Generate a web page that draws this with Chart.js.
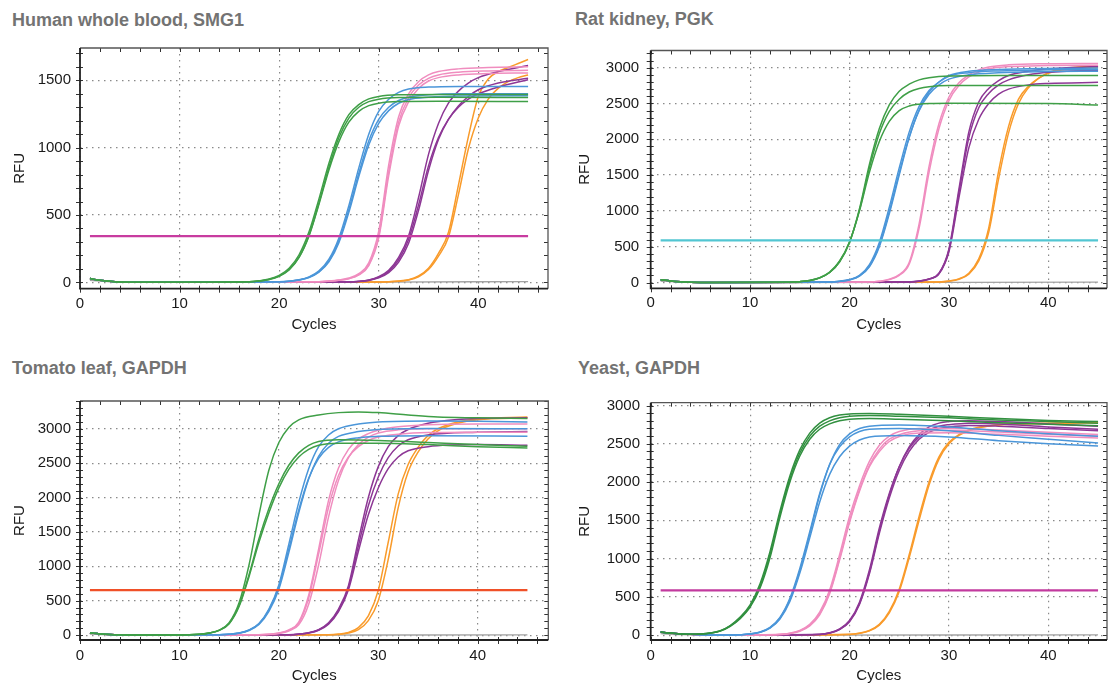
<!DOCTYPE html>
<html>
<head>
<meta charset="utf-8">
<script src="https://cdn.jsdelivr.net/npm/chart.js@4.4.1/dist/chart.umd.min.js"></script>
<style>
  html, body { margin: 0; padding: 0; background: #fff; }
  body { width: 1112px; height: 688px; position: relative; overflow: hidden; font-family: "Liberation Sans", Arial, sans-serif; }
  .ttl { position: absolute; font-size: 18px; line-height: 18px; font-weight: bold; color: #737373; white-space: nowrap; }
  canvas { position: absolute; }
</style>
</head>
<body>
<div class="ttl" style="left:12px; top:11px">Human whole blood, SMG1</div>
<div class="ttl" style="left:575px; top:10px">Rat kidney, PGK</div>
<div class="ttl" style="left:12px; top:359px">Tomato leaf, GAPDH</div>
<div class="ttl" style="left:578px; top:359px">Yeast, GAPDH</div>
<canvas id="c1" width="556" height="307" style="left:0px; top:30px"></canvas>
<canvas id="c2" width="547" height="307" style="left:565px; top:30px"></canvas>
<canvas id="c3" width="556" height="305" style="left:0px; top:383px"></canvas>
<canvas id="c4" width="547" height="305" style="left:565px; top:383px"></canvas>
<script>
// ticks
const cycleTicks = [0, 10, 20, 30, 40];
const bloodRfuTicks = [0, 500, 1000, 1500];
const rfuTicks = [0, 500, 1000, 1500, 2000, 2500, 3000];

// threshold levels
const bloodThreshold = 344;
const kidneyThreshold = 587;
const tomatoThreshold = 653;
const yeastThreshold = 584;

// ---- Human whole blood, SMG1 ----
const bloodHead = [[1,28],[2,16],[3,8],[4,3],[6,0]];
const bloodGreen = [
  [[17,5],[18,12],[19,25],[20,52],[21,105],[22,205],[23,375],[24,620],[25,885],[26,1100],[27,1245],[28,1320],[29,1362],[30,1380],[32,1392],[36,1395],[45,1395]],
  [[17,4],[18,10],[19,22],[20,46],[21,95],[22,188],[23,350],[24,590],[25,855],[26,1075],[27,1220],[28,1300],[29,1342],[30,1360],[32,1372],[36,1375],[45,1372]],
  [[17,4],[18,10],[19,21],[20,45],[21,92],[22,185],[23,345],[24,580],[25,835],[26,1045],[27,1190],[28,1270],[29,1312],[30,1330],[32,1342],[36,1345],[45,1342]]
];
const bloodBlue = [
  [[20,5],[21,9],[22,19],[23,41],[24,86],[25,172],[26,330],[27,570],[28,850],[29,1100],[30,1270],[31,1360],[32,1410],[33,1435],[35,1450],[38,1455],[45,1455]],
  [[20,4],[21,8],[22,17],[23,37],[24,80],[25,160],[26,310],[27,540],[28,810],[29,1050],[30,1210],[31,1300],[32,1350],[33,1375],[35,1392],[38,1400],[45,1400]],
  [[20,4],[21,8],[22,17],[23,36],[24,76],[25,152],[26,295],[27,520],[28,785],[29,1020],[30,1180],[31,1275],[32,1330],[33,1358],[35,1375],[38,1383],[45,1385]]
];
const bloodPink = [
  [[24,5],[25,10],[26,18],[27,32],[28,65],[29,145],[30,380],[31,870],[32,1230],[33,1400],[34,1490],[35,1540],[36,1565],[38,1585],[41,1595],[45,1600]],
  [[24,4],[25,9],[26,16],[27,28],[28,58],[29,130],[30,345],[31,820],[32,1190],[33,1370],[34,1465],[35,1515],[36,1540],[38,1560],[41,1570],[45,1575]],
  [[24,4],[25,8],[26,15],[27,27],[28,55],[29,125],[30,330],[31,790],[32,1160],[33,1340],[34,1440],[35,1495],[36,1520],[38,1540],[41,1550],[45,1555]]
];
const bloodPurple = [
  [[27,4],[28,8],[29,18],[30,42],[31,90],[32,185],[33,345],[34,630],[35,950],[36,1180],[37,1330],[38,1420],[39,1480],[40,1520],[42,1565],[45,1610]],
  [[27,3],[28,7],[29,16],[30,38],[31,82],[32,168],[33,318],[34,575],[35,865],[36,1075],[37,1210],[38,1300],[39,1360],[40,1400],[42,1450],[45,1505]],
  [[27,3],[28,6],[29,14],[30,33],[31,72],[32,150],[33,290],[34,535],[35,830],[36,1060],[37,1210],[38,1310],[39,1380],[40,1430],[42,1480],[45,1515]]
];
const bloodOrange = [
  [[30,3],[31,5],[32,10],[33,20],[34,48],[35,105],[36,215],[37,370],[38,720],[39,1080],[40,1380],[41,1510],[42,1565],[43,1595],[44,1625],[45,1655]],
  [[30,2],[31,4],[32,8],[33,17],[34,42],[35,95],[36,195],[37,335],[38,650],[39,990],[40,1220],[41,1360],[42,1440],[43,1490],[44,1520],[45,1540]]
];
const bloodGray = [[1,15],[3,4],[8,0],[30,2],[45,6]];

// ---- Rat kidney, PGK ----
const kidneyHead = [[1,40],[2,22],[3,10],[4,4],[6,0]];
const kidneyGreen = [
  [[14,5],[15,12],[16,28],[17,65],[18,140],[19,290],[20,560],[21,1030],[22,1650],[23,2150],[24,2480],[25,2670],[26,2770],[27,2830],[28,2860],[30,2885],[35,2892],[45,2890]],
  [[14,5],[15,12],[16,28],[17,65],[18,140],[19,290],[20,560],[21,1010],[22,1600],[23,2080],[24,2390],[25,2560],[26,2660],[27,2710],[28,2735],[30,2750],[45,2750]],
  [[14,5],[15,12],[16,29],[17,67],[18,145],[19,300],[20,570],[21,1000],[22,1540],[23,1970],[24,2250],[25,2400],[26,2465],[27,2490],[28,2500],[30,2505],[40,2500],[45,2480]]
];
const kidneyBlue = [
  [[18,8],[19,18],[20,42],[21,100],[22,250],[23,560],[24,1050],[25,1600],[26,2100],[27,2460],[28,2680],[29,2800],[30,2880],[32,2930],[35,2955],[40,2970],[45,2975]],
  [[18,7],[19,16],[20,38],[21,92],[22,230],[23,520],[24,990],[25,1530],[26,2030],[27,2400],[28,2630],[29,2760],[30,2840],[32,2900],[35,2930],[40,2945],[45,2950]],
  [[18,7],[19,15],[20,36],[21,88],[22,220],[23,500],[24,960],[25,1500],[26,2020],[27,2410],[28,2660],[29,2800],[30,2890],[32,2950],[35,2975],[40,2990],[45,2995]]
];
const kidneyPink = [
  [[22,8],[23,18],[24,45],[25,110],[26,280],[27,820],[28,1620],[29,2220],[30,2590],[31,2790],[32,2900],[33,2970],[34,3010],[36,3040],[40,3055],[45,3060]],
  [[22,7],[23,16],[24,40],[25,100],[26,255],[27,760],[28,1540],[29,2150],[30,2540],[31,2750],[32,2870],[33,2940],[34,2985],[36,3015],[40,3030],[45,3035]]
];
const kidneyPurple = [
  [[26,8],[27,20],[28,50],[29,130],[30,470],[31,1300],[32,2100],[33,2520],[34,2710],[35,2820],[36,2890],[38,2950],[40,2985],[45,3015]],
  [[26,8],[27,19],[28,48],[29,125],[30,450],[31,1250],[32,2020],[33,2440],[34,2640],[35,2760],[36,2830],[38,2900],[40,2935],[45,2965]],
  [[26,7],[27,18],[28,46],[29,120],[30,430],[31,1180],[32,1880],[33,2280],[34,2500],[35,2630],[36,2700],[38,2760],[40,2780],[45,2795]]
];
const kidneyOrange = [
  [[29,8],[30,20],[31,50],[32,130],[33,330],[34,760],[35,1560],[36,2180],[37,2560],[38,2740],[39,2850],[40,2920],[41,2960],[43,2990],[45,3000]],
  [[29,7],[30,18],[31,45],[32,115],[33,300],[34,700],[35,1450],[36,2090],[37,2500],[38,2720],[39,2850],[40,2930],[41,2975],[43,3010],[45,3025]]
];
const kidneyGray = [[1,20],[3,5],[8,0],[45,5]];

// ---- Tomato leaf, GAPDH ----
const tomatoHead = [[1,30],[2,18],[3,9],[4,4],[6,0]];
const tomatoGreen = [
  [[11,5],[12,12],[13,30],[14,72],[15,180],[16,470],[17,1020],[18,1750],[19,2400],[20,2800],[21,3020],[22,3130],[24,3200],[26,3235],[28,3245],[30,3235],[33,3200],[36,3170],[40,3160],[45,3150]],
  [[11,5],[12,12],[13,30],[14,70],[15,170],[16,430],[17,880],[18,1400],[19,1840],[20,2200],[21,2470],[22,2650],[23,2760],[24,2815],[26,2840],[30,2830],[35,2800],[40,2770],[45,2745]],
  [[11,5],[12,12],[13,30],[14,68],[15,165],[16,415],[17,850],[18,1350],[19,1780],[20,2140],[21,2410],[22,2590],[23,2700],[24,2760],[26,2790],[30,2790],[35,2770],[40,2740],[45,2720]]
];
const tomatoBlue = [
  [[14,5],[15,12],[16,30],[17,75],[18,170],[19,380],[20,730],[21,1320],[22,1930],[23,2420],[24,2740],[25,2910],[26,3000],[28,3070],[30,3100],[35,3115],[40,3110],[45,3100]],
  [[14,5],[15,12],[16,30],[17,72],[18,165],[19,365],[20,700],[21,1250],[22,1820],[23,2280],[24,2570],[25,2730],[26,2810],[28,2870],[30,2890],[35,2900],[45,2890]],
  [[14,5],[15,12],[16,28],[17,68],[18,155],[19,345],[20,665],[21,1200],[22,1780],[23,2270],[24,2600],[25,2790],[26,2890],[28,2960],[30,2990],[35,3005],[45,3000]]
];
const tomatoPink = [
  [[18,5],[19,12],[20,30],[21,75],[22,190],[23,580],[24,1250],[25,1960],[26,2430],[27,2700],[28,2850],[29,2930],[30,2980],[32,3030],[35,3060],[40,3070],[45,3070]],
  [[18,5],[19,12],[20,28],[21,70],[22,175],[23,540],[24,1180],[25,1860],[26,2320],[27,2590],[28,2740],[29,2830],[30,2880],[32,2920],[35,2945],[40,2950],[45,2950]],
  [[18,4],[19,10],[20,24],[21,60],[22,150],[23,450],[24,1020],[25,1720],[26,2250],[27,2580],[28,2770],[29,2880],[30,2940],[32,2985],[35,3000],[45,3000]]
];
const tomatoPurple = [
  [[21,6],[22,15],[23,35],[24,80],[25,180],[26,380],[27,720],[28,1380],[29,2000],[30,2450],[31,2740],[32,2900],[33,2990],[35,3080],[38,3135],[40,3150],[45,3160]],
  [[21,6],[22,14],[23,32],[24,75],[25,170],[26,360],[27,690],[28,1300],[29,1880],[30,2300],[31,2580],[32,2750],[33,2840],[35,2910],[40,2950],[45,2960]],
  [[21,5],[22,13],[23,30],[24,70],[25,160],[26,340],[27,660],[28,1220],[29,1750],[30,2140],[31,2420],[32,2590],[33,2680],[35,2740],[40,2770],[45,2760]]
];
const tomatoOrange = [
  [[25,6],[26,15],[27,40],[28,110],[29,280],[30,650],[31,1350],[32,2050],[33,2480],[34,2730],[35,2900],[36,3000],[38,3100],[40,3140],[45,3170]],
  [[25,4],[26,10],[27,30],[28,80],[29,210],[30,500],[31,1100],[32,1850],[33,2370],[34,2660],[35,2850],[36,2970],[38,3080],[40,3130],[45,3160]]
];
const tomatoGray = [[1,15],[3,4],[8,0],[45,3]];

// ---- Yeast, GAPDH ----
const yeastHead = [[1,40],[2,26],[3,16],[4,10]];
const yeastFlat = [[6,2],[8,0]];
const yeastGreen = [
  [[5,14],[6,26],[7,55],[8,120],[9,225],[10,380],[11,640],[12,1050],[13,1580],[14,2040],[15,2380],[16,2600],[17,2730],[18,2800],[19,2840],[20,2860],[22,2870],[25,2860],[30,2840],[35,2810],[40,2790],[45,2770]],
  [[5,14],[6,27],[7,57],[8,125],[9,235],[10,395],[11,670],[12,1090],[13,1620],[14,2080],[15,2420],[16,2640],[17,2770],[18,2840],[19,2875],[20,2890],[22,2895],[25,2885],[30,2860],[35,2830],[40,2805],[45,2790]],
  [[5,13],[6,25],[7,52],[8,115],[9,215],[10,365],[11,615],[12,1010],[13,1540],[14,2000],[15,2340],[16,2560],[17,2690],[18,2760],[19,2800],[20,2820],[22,2830],[25,2820],[30,2800],[35,2775],[40,2755],[45,2735]]
];
const yeastBlue = [
  [[9,5],[10,15],[11,40],[12,100],[13,230],[14,480],[15,870],[16,1350],[17,1850],[18,2230],[19,2460],[20,2590],[21,2660],[22,2690],[25,2700],[30,2670],[35,2610],[40,2560],[45,2510]],
  [[9,5],[10,15],[11,38],[12,95],[13,220],[14,460],[15,840],[16,1320],[17,1830],[18,2230],[19,2490],[20,2630],[21,2700],[22,2730],[25,2745],[30,2720],[35,2670],[40,2630],[45,2600]],
  [[9,5],[10,14],[11,36],[12,90],[13,210],[14,440],[15,810],[16,1270],[17,1740],[18,2100],[19,2330],[20,2470],[21,2550],[22,2590],[25,2610],[30,2590],[35,2540],[40,2500],[45,2470]]
];
const yeastPink = [
  [[13,10],[14,25],[15,60],[16,140],[17,300],[18,590],[19,1050],[20,1550],[21,1950],[22,2270],[23,2480],[24,2600],[25,2660],[27,2700],[30,2700],[35,2680],[40,2650],[45,2620]],
  [[13,9],[14,22],[15,55],[16,130],[17,280],[18,560],[19,1000],[20,1490],[21,1900],[22,2220],[23,2430],[24,2560],[25,2620],[27,2670],[30,2675],[35,2655],[40,2625],[45,2600]],
  [[13,8],[14,20],[15,50],[16,120],[17,265],[18,540],[19,980],[20,1470],[21,1880],[22,2200],[23,2400],[24,2530],[25,2595],[27,2640],[30,2645],[35,2625],[40,2600],[45,2575]]
];
const yeastPurple = [
  [[17,10],[18,30],[19,80],[20,190],[21,430],[22,850],[23,1400],[24,1850],[25,2200],[26,2440],[27,2590],[28,2680],[29,2730],[30,2750],[32,2770],[35,2760],[40,2720],[45,2690]],
  [[17,9],[18,28],[19,75],[20,180],[21,410],[22,820],[23,1360],[24,1830],[25,2200],[26,2460],[27,2620],[28,2720],[29,2770],[30,2790],[32,2800],[35,2790],[40,2760],[45,2730]],
  [[17,9],[18,27],[19,72],[20,175],[21,400],[22,800],[23,1330],[24,1790],[25,2150],[26,2400],[27,2560],[28,2650],[29,2700],[30,2720],[32,2740],[35,2730],[40,2700],[45,2670]]
];
const yeastOrange = [
  [[20,10],[21,25],[22,60],[23,140],[24,310],[25,600],[26,1050],[27,1550],[28,2000],[29,2330],[30,2520],[31,2620],[32,2680],[33,2715],[35,2750],[40,2770],[45,2780]],
  [[20,9],[21,23],[22,55],[23,130],[24,290],[25,570],[26,1010],[27,1500],[28,1960],[29,2300],[30,2500],[31,2610],[32,2670],[33,2710],[35,2745],[40,2765],[45,2775]]
];
const yeastGray = [[1,20],[3,5],[8,0],[45,3]];

const colors = {
  green: '#3f9f47', blue: '#4b96d9', pink: '#f08dbf', purple: '#8d3795',
  orange: '#f99b2b', gray: '#a3a3a3'
};

Chart.defaults.font.family = '"Liberation Sans", Arial, sans-serif';
Chart.defaults.font.size = 15;
Chart.defaults.color = '#1a1a1a';

function pts(arr) { return arr.map(p => ({ x: p[0], y: p[1] })); }

function curves(head, reps, color) {
  return reps.map(r => ({
    data: pts(head.concat(r)),
    borderColor: color,
    borderWidth: 1.5,
    order: 1
  }));
}

// frame + small tick marks all round the plot box
const framePlugin = {
  id: 'frame',
  afterDraw(chart) {
    const { ctx, chartArea: a, scales: { x, y } } = chart;
    ctx.save();
    ctx.strokeStyle = '#333';
    ctx.lineWidth = 1;
    ctx.beginPath();
    for (let c = 0; c <= x.max; c += 2) {
      const px = Math.round(x.getPixelForValue(c)) + 0.5;
      ctx.moveTo(px, a.bottom - 3); ctx.lineTo(px, a.bottom + 4);
      ctx.moveTo(px, a.top); ctx.lineTo(px, a.top + 4);
    }
    for (let v = 0; v <= y.max; v += 100) {
      const py = Math.round(y.getPixelForValue(v)) + 0.5;
      ctx.moveTo(a.left - 4, py); ctx.lineTo(a.left + 3, py);
      ctx.moveTo(a.right - 4, py); ctx.lineTo(a.right, py);
    }
    ctx.stroke();
    ctx.lineWidth = 1.3;
    ctx.strokeStyle = '#555';
    ctx.beginPath();
    ctx.moveTo(a.left, a.top); ctx.lineTo(a.right, a.top); ctx.lineTo(a.right, a.bottom);
    ctx.stroke();
    ctx.lineWidth = 1.8;
    ctx.strokeStyle = '#222';
    ctx.beginPath();
    ctx.moveTo(a.left, a.top); ctx.lineTo(a.left, a.bottom); ctx.lineTo(a.right, a.bottom);
    ctx.stroke();
    ctx.restore();
  }
};

function panel(id, o) {
  const datasets = [
    { data: pts([[1, o.threshold], [45, o.threshold]]), borderColor: o.thresholdColor, borderWidth: 2.3, order: 0 },
    ...curves(o.head, o.green, o.greenColor || colors.green),
    ...curves(o.head2 || o.head, o.blue, colors.blue),
    ...curves(o.head2 || o.head, o.pink, colors.pink),
    ...curves(o.head2 || o.head, o.purple, colors.purple),
    ...curves(o.head2 || o.head, o.orange, colors.orange),
    { data: pts(o.gray), borderColor: colors.gray, borderWidth: 1.3, order: 2 }
  ];
  new Chart(document.getElementById(id), {
    type: 'line',
    data: { datasets },
    options: {
      responsive: false,
      animation: false,
      layout: { padding: { top: o.padTop, right: o.padRight, left: 0, bottom: 0 } },
      elements: { point: { radius: 0 }, line: { cubicInterpolationMode: 'monotone', fill: false } },
      plugins: { legend: { display: false }, tooltip: { enabled: false } },
      scales: {
        x: {
          type: 'linear', min: 0, max: o.xMax,
          afterBuildTicks: s => { s.ticks = cycleTicks.map(v => ({ value: v })); },
          afterFit: s => { s.height = o.xHeight; },
          grid: { color: '#8a8a8a', lineWidth: 1.2, drawTicks: false },
          border: { display: false, dash: [1.5, 4.5] },
          ticks: { padding: o.xLabelPad, color: '#1a1a1a', font: { size: 15 }, maxRotation: 0, callback: v => String(v) },
          title: { display: true, text: 'Cycles', color: '#1a1a1a', font: { size: 15 }, padding: { top: 0, bottom: 3 } }
        },
        y: {
          type: 'linear', min: o.yMin, max: o.yMax,
          afterBuildTicks: s => { s.ticks = o.yTicks.map(v => ({ value: v })); },
          afterFit: s => { s.width = o.yWidth; },
          grid: { color: '#8a8a8a', lineWidth: 1.2, drawTicks: false },
          border: { display: false, dash: [1.5, 4.5] },
          ticks: { padding: o.yLabelPad, color: '#1a1a1a', font: { size: 15 }, callback: v => String(v) },
          title: { display: true, text: 'RFU', color: '#1a1a1a', font: { size: 15 }, padding: { top: 11, bottom: 0 } }
        }
      }
    },
    plugins: [framePlugin]
  });
}

panel('c1', {
  head: bloodHead, green: bloodGreen, blue: bloodBlue, pink: bloodPink, purple: bloodPurple, orange: bloodOrange, gray: bloodGray,
  threshold: bloodThreshold, thresholdColor: '#c83ca0',
  xMax: 47, yMin: -47, yMax: 1740, yTicks: bloodRfuTicks,
  padTop: 13, padRight: 8, yWidth: 80, xHeight: 48.3, xLabelPad: 6, yLabelPad: 9
});
panel('c2', {
  head: kidneyHead, green: kidneyGreen, blue: kidneyBlue, pink: kidneyPink, purple: kidneyPurple, orange: kidneyOrange, gray: kidneyGray,
  threshold: kidneyThreshold, thresholdColor: '#52c6d2',
  xMax: 45.9, yMin: -81, yMax: 3240, yTicks: rfuTicks,
  padTop: 13.3, padRight: 5, yWidth: 85.7, xHeight: 48.7, xLabelPad: 6, yLabelPad: 11.5
});
panel('c3', {
  head: tomatoHead, green: tomatoGreen, blue: tomatoBlue, pink: tomatoPink, purple: tomatoPurple, orange: tomatoOrange, gray: tomatoGray,
  threshold: tomatoThreshold, thresholdColor: '#f05028',
  xMax: 47.1, yMin: -71, yMax: 3404, yTicks: rfuTicks,
  padTop: 13.7, padRight: 7.7, yWidth: 80, xHeight: 48, xLabelPad: 7, yLabelPad: 9
});
panel('c4', {
  head: yeastHead, head2: yeastHead.concat(yeastFlat),
  green: yeastGreen, greenColor: '#329040', blue: yeastBlue, pink: yeastPink, purple: yeastPurple, orange: yeastOrange, gray: yeastGray,
  threshold: yeastThreshold, thresholdColor: '#c23a9e',
  xMax: 45.9, yMin: -64, yMax: 3037, yTicks: rfuTicks,
  padTop: 13, padRight: 5, yWidth: 85.7, xHeight: 48, xLabelPad: 7, yLabelPad: 10.7
});
</script>
</body>
</html>
